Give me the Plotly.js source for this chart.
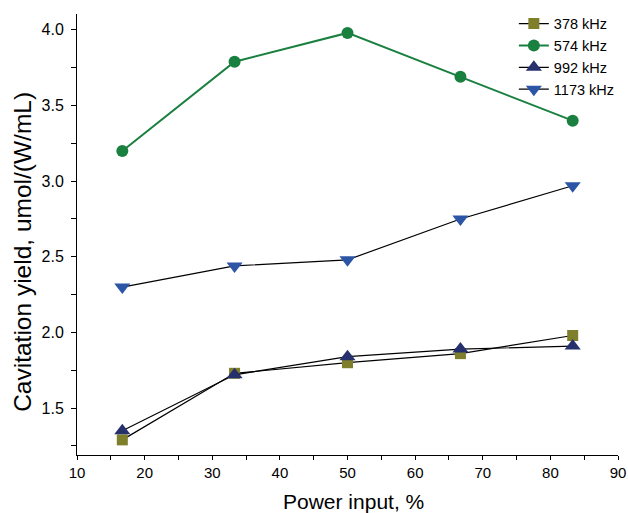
<!DOCTYPE html>
<html><head><meta charset="utf-8">
<script src="https://cdn.plot.ly/plotly-3.0.1.min.js"></script>
<style>html,body{margin:0;padding:0;background:#fff}#chart{width:628px;height:513px}</style>
</head><body><div id="chart"></div>
<script>
const power = [16.7, 33.3, 50, 66.7, 83.3];
const y378 = [1.29, 1.73, 1.80, 1.86, 1.98];
const y574 = [3.20, 3.79, 3.98, 3.69, 3.40];
const y992 = [1.35, 1.72, 1.84, 1.89, 1.91];
const y1173 = [2.30, 2.44, 2.48, 2.75, 2.97];
const names = ['378 kHz', '574 kHz', '992 kHz', '1173 kHz'];
const xTitle = 'Power input, %';
const yTitle = 'Cavitation yield, umol/(W/mL)';

const traces = [
  {x: power, y: y378, name: names[0], mode: 'lines+markers',
   line: {color: '#000', width: 1.2}, marker: {symbol: 'square', size: 11, color: '#7f7f2b'}},
  {x: power, y: y574, name: names[1], mode: 'lines+markers',
   line: {color: '#1a8040', width: 2}, marker: {symbol: 'circle', size: 12, color: '#1a8040'}},
  {x: power, y: y992, name: names[2], mode: 'lines+markers',
   line: {color: '#000', width: 1.2}, marker: {symbol: 'triangle-up', size: 14, color: '#26306c'}},
  {x: power, y: y1173, name: names[3], mode: 'lines+markers',
   line: {color: '#000', width: 1.2}, marker: {symbol: 'triangle-down', size: 14, color: '#2d55a6'}}
];

const reg = {family: 'Liberation Sans, Arial, sans-serif', color: '#000'};
const layout = {
  width: 628, height: 513,
  margin: {l: 77, r: 9, t: 13, b: 58},
  paper_bgcolor: '#fff', plot_bgcolor: '#fff',
  font: Object.assign({size: 16}, reg),
  showlegend: true,
  legend: {x: 0.806, y: 1.012, xanchor: 'left', yanchor: 'top', bgcolor: 'rgba(0,0,0,0)',
           font: Object.assign({size: 14.5}, reg), tracegroupgap: 0},
  xaxis: {
    range: [10, 90], dtick: 10, tick0: 10, showgrid: false, zeroline: false,
    showline: true, linecolor: '#000', linewidth: 1,
    ticks: 'outside', ticklen: 4, tickcolor: '#000', ticklabeloverflow: 'allow',
    minor: {dtick: 5, ticks: 'outside', ticklen: 4, tickcolor: '#000', showgrid: false},
    tickfont: Object.assign({size: 15}, reg)
  },
  yaxis: {
    range: [1.19, 4.105], dtick: 0.5, tick0: 1.5, tickformat: '.1f', showgrid: false, zeroline: false,
    showline: true, linecolor: '#000', linewidth: 1,
    ticks: 'outside', ticklen: 5, tickcolor: '#000', ticklabelstandoff: 4,
    minor: {dtick: 0.25, ticks: 'outside', ticklen: 5, tickcolor: '#000', showgrid: false},
    tickfont: Object.assign({size: 16}, reg)
  },
  annotations: [
    {text: xTitle, xref: 'paper', yref: 'paper', x: 0.511, y: -0.106, xanchor: 'center', yanchor: 'middle',
     showarrow: false, font: Object.assign({size: 21}, reg)},
    {text: yTitle, xref: 'paper', yref: 'paper', x: -0.101, y: 0.4615, xanchor: 'center', yanchor: 'middle',
     textangle: -90, showarrow: false, font: Object.assign({size: 24.5}, reg)}
  ]
};
Plotly.newPlot('chart', traces, layout, {displayModeBar: false, staticPlot: true});
</script></body></html>
